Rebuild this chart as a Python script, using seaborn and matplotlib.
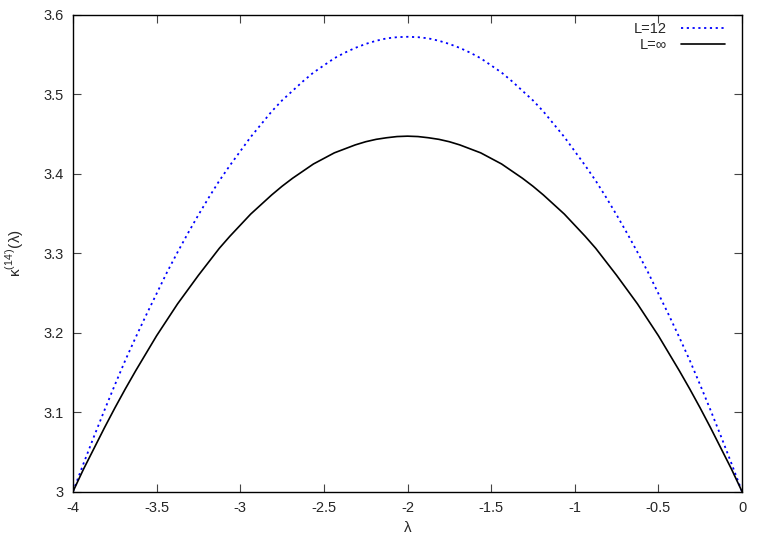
import pandas as pd
import seaborn as sns
import matplotlib
matplotlib.use("Agg")
import matplotlib.pyplot as plt
from matplotlib.ticker import FuncFormatter

# values
lam = [-4.0, -3.9375, -3.875, -3.8125, -3.75, -3.6875, -3.625, -3.5625,
       -3.5, -3.4375, -3.375, -3.3125, -3.25, -3.1875, -3.125, -3.0625,
       -3.0, -2.9375, -2.875, -2.8125, -2.75, -2.6875, -2.625, -2.5625,
       -2.5, -2.4375, -2.375, -2.3125, -2.25, -2.1875, -2.125, -2.0625,
       -2.0, -1.9375, -1.875, -1.8125, -1.75, -1.6875, -1.625, -1.5625,
       -1.5, -1.4375, -1.375, -1.3125, -1.25, -1.1875, -1.125, -1.0625,
       -1.0, -0.9375, -0.875, -0.8125, -0.75, -0.6875, -0.625, -0.5625,
       -0.5, -0.4375, -0.375, -0.3125, -0.25, -0.1875, -0.125, -0.0625,
       0.0]

kappa_L12 = [3.000, 3.035, 3.069, 3.102, 3.134, 3.165, 3.194, 3.222,
             3.249, 3.276, 3.301, 3.325, 3.348, 3.370, 3.391, 3.410,
             3.428, 3.446, 3.462, 3.478, 3.492, 3.504, 3.516, 3.527,
             3.536, 3.545, 3.552, 3.558, 3.563, 3.567, 3.570, 3.5715,
             3.572, 3.5715, 3.570, 3.567, 3.563, 3.558, 3.552, 3.545,
             3.536, 3.527, 3.516, 3.504, 3.492, 3.478, 3.462, 3.446,
             3.428, 3.410, 3.391, 3.370, 3.348, 3.325, 3.301, 3.276,
             3.249, 3.222, 3.194, 3.165, 3.134, 3.102, 3.069, 3.035,
             3.000]

kappa_inf = [3.000, 3.028, 3.054, 3.080, 3.105, 3.129, 3.152, 3.174,
             3.196, 3.216, 3.236, 3.254, 3.272, 3.289, 3.306, 3.321,
             3.335, 3.349, 3.361, 3.373, 3.384, 3.394, 3.403, 3.412,
             3.419, 3.426, 3.431, 3.436, 3.440, 3.443, 3.445, 3.4465,
             3.447, 3.4465, 3.445, 3.443, 3.440, 3.436, 3.431, 3.426,
             3.419, 3.412, 3.403, 3.394, 3.384, 3.373, 3.361, 3.349,
             3.335, 3.321, 3.306, 3.289, 3.272, 3.254, 3.236, 3.216,
             3.196, 3.174, 3.152, 3.129, 3.105, 3.080, 3.054, 3.028,
             3.000]

x_ticks = [-4, -3.5, -3, -2.5, -2, -1.5, -1, -0.5, 0]
y_ticks = [3.0, 3.1, 3.2, 3.3, 3.4, 3.5, 3.6]

df = pd.DataFrame({"lam": lam, "L12": kappa_L12, "Linf": kappa_inf})

sns.set_style("ticks")
plt.rcParams["font.family"] = ["Liberation Sans", "DejaVu Sans"]
plt.rcParams["axes.unicode_minus"] = False
plt.rcParams["xtick.direction"] = "in"
plt.rcParams["ytick.direction"] = "in"

fig = plt.figure(figsize=(7.71, 5.40), dpi=100)
ax = fig.add_axes([0.0947, 0.0898, 0.8677, 0.8833])

sns.lineplot(data=df, x="lam", y="L12", ax=ax, color="#0000ff",
             linestyle=(0, (1.2, 2.0)), linewidth=1.3, label="L=12")
sns.lineplot(data=df, x="lam", y="Linf", ax=ax, color="black",
             linewidth=1.2, label="L=∞")

ax.set_xlim(-4, 0)
ax.set_ylim(3.0, 3.6)
ax.set_xticks(x_ticks)
ax.set_yticks(y_ticks)
fmt = FuncFormatter(lambda v, p: "%g" % round(v, 3))
ax.xaxis.set_major_formatter(fmt)
ax.yaxis.set_major_formatter(fmt)
ax.tick_params(top=True, right=True, length=6, width=0.8, labelsize=10.5,
               color="#444444", pad=7)
for s in ax.spines.values():
    s.set_linewidth(1.0)
    s.set_color("black")

ax.set_xlabel("λ", fontsize=11)
ax.set_ylabel(r"κ$^{\mathregular{(14')}}$(λ)", fontsize=11, labelpad=12)

leg = ax.legend(loc="upper right", bbox_to_anchor=(0.983, 0.996),
                borderaxespad=0, frameon=False, markerfirst=False,
                fontsize=10.5, handlelength=3.0, handletextpad=1.0,
                labelspacing=0.15)

fig.savefig("out.png", dpi=100)
